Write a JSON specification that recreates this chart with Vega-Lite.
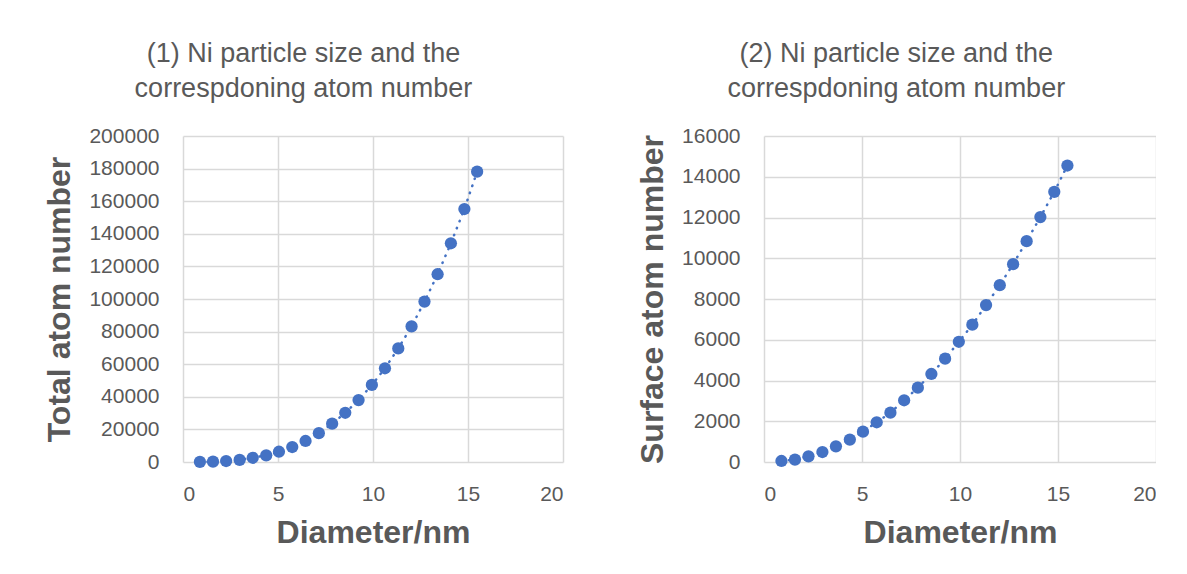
{
  "$schema": "https://vega.github.io/schema/vega-lite/v6.json",
  "background": "white",
  "padding": {"left": 43, "top": 40, "right": 0, "bottom": 0},
  "config": {
    "font": "Liberation Sans",
    "view": {"stroke": null},
    "axis": {
      "grid": true, "gridColor": "#d9d9d9", "gridWidth": 1.5,
      "domain": false, "ticks": false,
      "labelColor": "#595959", "labelFontSize": 21, "labelFont": "Liberation Sans",
      "titleColor": "#595959", "titleFontSize": 32, "titleFontWeight": "bold", "titleFont": "Liberation Sans"
    },
    "axisX": {"labelPadding": 21, "titlePadding": 13},
    "axisY": {"labelPadding": 24, "titlePadding": 12},
    "title": {"fontSize": 27, "fontWeight": "normal", "color": "#595959", "frame": "bounds", "anchor": "middle", "lineHeight": 35, "offset": 22, "font": "Liberation Sans"},
    "concat": {"spacing": 73}
  },
  "data": {"values": [
    {"d": 0.89, "total": 50, "surface": 50},
    {"d": 1.58, "total": 200, "surface": 120},
    {"d": 2.27, "total": 600, "surface": 280},
    {"d": 2.98, "total": 1300, "surface": 490},
    {"d": 3.67, "total": 2600, "surface": 770},
    {"d": 4.38, "total": 4100, "surface": 1100},
    {"d": 5.05, "total": 6300, "surface": 1490},
    {"d": 5.75, "total": 9200, "surface": 1950},
    {"d": 6.45, "total": 12900, "surface": 2420},
    {"d": 7.15, "total": 17700, "surface": 3030},
    {"d": 7.85, "total": 23500, "surface": 3650},
    {"d": 8.54, "total": 30200, "surface": 4320},
    {"d": 9.24, "total": 38000, "surface": 5070},
    {"d": 9.94, "total": 47300, "surface": 5900},
    {"d": 10.63, "total": 57500, "surface": 6740},
    {"d": 11.33, "total": 69700, "surface": 7700},
    {"d": 12.03, "total": 83200, "surface": 8680},
    {"d": 12.71, "total": 98400, "surface": 9710},
    {"d": 13.40, "total": 115200, "surface": 10840},
    {"d": 14.10, "total": 134200, "surface": 12020},
    {"d": 14.81, "total": 155200, "surface": 13260},
    {"d": 15.48, "total": 178100, "surface": 14550}
  ]},
  "hconcat": [
    {
      "width": 380, "height": 326,
      "title": {"text": ["(1) Ni particle size and the", "correspdoning atom number"]},
      "encoding": {
        "x": {"field": "d", "type": "quantitative", "title": "Diameter/nm",
              "scale": {"domain": [0, 20], "nice": false},
              "axis": {"values": [0, 5, 10, 15, 20]}},
        "y": {"field": "total", "type": "quantitative", "title": "Total atom number",
              "scale": {"domain": [0, 200000], "nice": false},
              "axis": {"values": [0, 20000, 40000, 60000, 80000, 100000, 120000, 140000, 160000, 180000, 200000], "format": "d"}}
      },
      "layer": [
        {"mark": {"type": "line", "color": "#4472C4", "strokeWidth": 2.5, "strokeDash": [0.5, 7], "strokeCap": "round"}},
        {"mark": {"type": "circle", "size": 150, "color": "#4472C4", "opacity": 1}}
      ]
    },
    {
      "width": 392, "height": 326,
      "title": {"text": ["(2) Ni particle size and the", "correspdoning atom number"]},
      "encoding": {
        "x": {"field": "d", "type": "quantitative", "title": "Diameter/nm",
              "scale": {"domain": [0, 20], "nice": false},
              "axis": {"values": [0, 5, 10, 15, 20]}},
        "y": {"field": "surface", "type": "quantitative", "title": "Surface atom number",
              "scale": {"domain": [0, 16000], "nice": false},
              "axis": {"values": [0, 2000, 4000, 6000, 8000, 10000, 12000, 14000, 16000], "format": "d"}}
      },
      "layer": [
        {"mark": {"type": "line", "color": "#4472C4", "strokeWidth": 2.5, "strokeDash": [0.5, 7], "strokeCap": "round"}},
        {"mark": {"type": "circle", "size": 150, "color": "#4472C4", "opacity": 1}}
      ]
    }
  ]
}
